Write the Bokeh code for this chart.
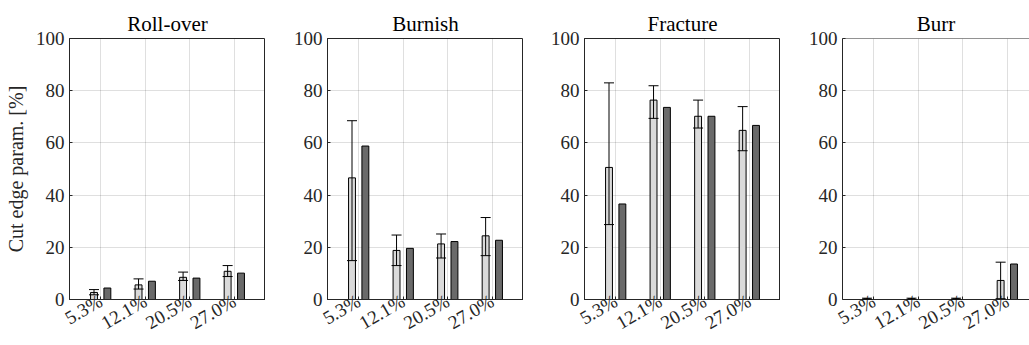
import numpy as np
from bokeh.plotting import figure
from bokeh.layouts import row
from bokeh.models import ColumnDataSource, Whisker, TeeHead, FixedTicker, Range1d, Span
from bokeh.transform import dodge
from bokeh.embed import file_html
from bokeh.resources import INLINE

categories = ["5.3%", "12.1%", "20.5%", "27.0%"]
panel_titles = ["Roll-over", "Burnish", "Fracture", "Burr"]
y_ticks = [0, 20, 40, 60, 80, 100]

# light bars (experiment mean) with error range, dark bars (simulation)
rollover_exp = [2.7, 5.6, 8.5, 10.8]
rollover_low = [1.8, 4.0, 7.3, 8.8]
rollover_high = [3.8, 7.9, 10.5, 13.0]
rollover_sim = [4.4, 7.0, 8.2, 10.1]

burnish_exp = [46.6, 18.8, 21.3, 24.4]
burnish_low = [14.9, 13.0, 15.9, 16.8]
burnish_high = [68.5, 24.7, 25.1, 31.4]
burnish_sim = [58.8, 19.6, 22.2, 22.7]

fracture_exp = [50.6, 76.4, 70.2, 64.8]
fracture_low = [28.7, 69.4, 65.7, 57.0]
fracture_high = [83.0, 81.9, 76.4, 73.9]
fracture_sim = [36.6, 73.6, 70.2, 66.7]

burr_exp = [0.3, 0.3, 0.3, 7.3]
burr_low = [0.0, 0.0, 0.0, 0.3]
burr_high = [0.5, 0.5, 0.5, 14.3]
burr_sim = [0.0, 0.0, 0.0, 13.6]

series = [
    (rollover_exp, rollover_low, rollover_high, rollover_sim),
    (burnish_exp, burnish_low, burnish_high, burnish_sim),
    (fracture_exp, fracture_low, fracture_high, fracture_sim),
    (burr_exp, burr_low, burr_high, burr_sim),
]

FONT = "'Liberation Serif'"
INK = "#262626"
LIGHT = "#dadada"
DARK = "#6a6a6a"

xs = list(range(1, len(categories) + 1))
label_map = {x: c for x, c in zip(xs, categories)}

widths = [265, 258, 257, 249]
lefts = [69, 62, 61, 62]
px_per_unit = 196 / 4.4

figs = []
for i, (title, (exp, lo, hi, sim)) in enumerate(zip(panel_titles, series)):
    last = i == len(panel_titles) - 1
    frame_w = widths[i] - lefts[i]
    x_end = 0.3 + frame_w / px_per_unit
    p = figure(width=widths[i], height=345,
               x_range=Range1d(0.3, x_end), y_range=Range1d(0, 100),
               output_backend="svg", toolbar_location=None,
               min_border_left=lefts[i], min_border_right=0,
               min_border_top=38, min_border_bottom=46)
    p.background_fill_color = "white"
    p.border_fill_color = "white"
    src = ColumnDataSource(dict(x=xs, exp=exp, lo=lo, hi=hi, sim=sim))
    p.vbar(x=dodge("x", -0.15), top="exp", bottom=0, width=0.155, source=src,
           fill_color=LIGHT, line_color="black", line_width=1)
    p.vbar(x=dodge("x", 0.15), top="sim", bottom=0, width=0.155, source=src,
           fill_color=DARK, line_color="black", line_width=1)
    w = Whisker(base=dodge("x", -0.15), lower="lo", upper="hi", source=src,
                line_color="black", line_width=1, level="annotation",
                upper_head=TeeHead(size=10, line_color="black", line_width=1),
                lower_head=TeeHead(size=10, line_color="black", line_width=1))
    p.add_layout(w)

    p.title.text = title
    p.title.align = "center"
    p.title.text_font = FONT
    p.title.text_font_size = "21px"
    p.title.text_font_style = "normal"
    p.title.text_color = "black"
    p.title.standoff = 6

    p.xaxis.ticker = FixedTicker(ticks=xs)
    p.xaxis.major_label_overrides = label_map
    p.xaxis.major_label_orientation = np.pi / 6
    p.xaxis.major_label_standoff = 0
    p.yaxis.ticker = FixedTicker(ticks=y_ticks)
    p.yaxis.major_label_standoff = 5
    for ax in (p.xaxis[0], p.yaxis[0]):
        ax.major_label_text_font = FONT
        ax.major_label_text_font_size = "19px"
        ax.major_label_text_font_style = "normal"
        ax.major_label_text_color = INK
        ax.axis_line_color = INK
        ax.major_tick_line_color = INK
        ax.major_tick_in = 3
        ax.major_tick_out = 0
        ax.minor_tick_line_color = None
    if i == 0:
        p.yaxis.axis_label = "Cut edge param. [%]"
        p.yaxis.axis_label_text_font = FONT
        p.yaxis.axis_label_text_font_size = "20px"
        p.yaxis.axis_label_text_font_style = "normal"
        p.yaxis.axis_label_text_color = INK
        p.yaxis.axis_label_standoff = 6

    p.xgrid.ticker = FixedTicker(ticks=xs)
    p.ygrid.ticker = FixedTicker(ticks=y_ticks)
    for g in (p.xgrid[0], p.ygrid[0]):
        g.grid_line_color = INK
        g.grid_line_alpha = 0.15
        g.grid_line_width = 1

    if last:
        p.outline_line_color = None
        p.add_layout(Span(location=p.y_range.end, dimension="width",
                          line_color=INK, line_width=1))
    else:
        p.outline_line_color = INK
        p.outline_line_width = 1
        p.outline_line_alpha = 1
    figs.append(p)

layout = row(*figs, spacing=0)
open("out.html", "w").write(file_html(layout, INLINE))
